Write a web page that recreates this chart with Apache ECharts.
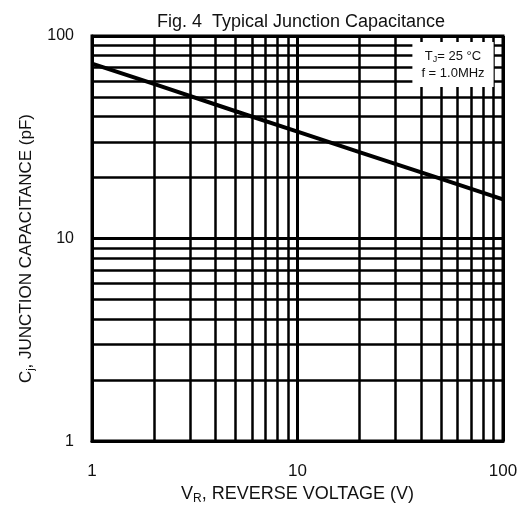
<!DOCTYPE html>
<html>
<head>
<meta charset="utf-8">
<script src="https://cdn.jsdelivr.net/npm/echarts@6/dist/echarts.min.js"></script>
<style>
  html, body { margin: 0; padding: 0; background: #fff; }
  #main { width: 522px; height: 510px; }
</style>
</head>
<body>
<div id="main"></div>
<script>
// values
const voltage = [1, 2, 5, 10, 20, 50, 100];
const capacitance = [73, 58, 42.5, 33.7, 26.7, 19.7, 15.6];
const xGridLines = [2, 3, 4, 5, 6, 7, 8, 9, 20, 30, 40, 50, 60, 70, 80, 90];
const yGridLines = [2, 3, 4, 5, 6, 7, 8, 9, 20, 30, 40, 50, 60, 70, 80, 90];

const font = "Liberation Sans, Arial, sans-serif";
const myChart = echarts.init(document.getElementById("main"));

const option = {
  animation: false,
  title: [
    {
      text: "Fig. 4  Typical Junction Capacitance",
      left: 296,
      textAlign: "center",
      top: 8,
      textStyle: { fontFamily: font, fontSize: 18, fontWeight: "normal", color: "#111" },
    },
    {
      // conditions box
      text: "{a|T}{s|J}{a|= 25 °C}\n{a|f = 1.0MHz}",
      left: 444,
      textAlign: "center",
      top: 42,
      backgroundColor: "#fff",
      padding: [6, 9, 5, 9],
      z: 20,
      textStyle: {
        fontFamily: font,
        fontWeight: "normal",
        lineHeight: 17,
        rich: {
          a: { fontFamily: font, fontSize: 13, color: "#111", lineHeight: 17 },
          s: { fontFamily: font, fontSize: 9, color: "#111", padding: [6, 0, 0, 0], lineHeight: 17 },
        },
      },
    },
  ],
  grid: {
    left: 92,
    right: 19,
    top: 36,
    bottom: 65,
    show: true,
    borderColor: "#000",
    borderWidth: 3,
  },
  xAxis: {
    type: "log",
    logBase: 10,
    min: 1,
    max: 100,
    name: "{a|V}{s|R}{a|, REVERSE VOLTAGE (V)}",
    nameLocation: "middle",
    nameGap: 36,
    nameTextStyle: {
      rich: {
        a: { fontFamily: font, fontSize: 18, color: "#111" },
        s: { fontFamily: font, fontSize: 12, color: "#111", padding: [10, 0, 0, 0] },
      },
    },
    axisLine: { show: true, lineStyle: { color: "#000", width: 3 } },
    axisTick: { show: false },
    axisLabel: { fontFamily: font, fontSize: 17, color: "#111", margin: 22 },
    splitLine: { show: true, lineStyle: { color: "#000", width: 3 } },
  },
  yAxis: {
    type: "log",
    logBase: 10,
    min: 1,
    max: 100,
    name: "{a|C}{s|j}{a|, JUNCTION CAPACITANCE (pF)}",
    nameLocation: "middle",
    nameGap: 56,
    nameTextStyle: {
      padding: [0, 20, 0, 0],
      rich: {
        a: { fontFamily: font, fontSize: 17, color: "#111" },
        s: { fontFamily: font, fontSize: 11, color: "#111", padding: [9, 0, 0, 0] },
      },
    },
    axisLine: { show: true, lineStyle: { color: "#000", width: 3 } },
    axisTick: { show: false },
    axisLabel: { fontFamily: font, fontSize: 16, color: "#111", margin: 18 },
    splitLine: { show: true, lineStyle: { color: "#000", width: 3 } },
  },
  series: [
    {
      name: "Cj",
      type: "line",
      data: voltage.map((v, i) => [v, capacitance[i]]),
      symbol: "none",
      lineStyle: { color: "#000", width: 4 },
      z: 5,
      markLine: {
        silent: true,
        symbol: "none",
        label: { show: false },
        lineStyle: { color: "#000", width: 2.5, type: "solid" },
        data: [
          ...xGridLines.map((v) => ({ xAxis: v })),
          ...yGridLines.map((v) => ({ yAxis: v })),
        ],
      },
    },
  ],
};

myChart.setOption(option);
</script>
</body>
</html>
